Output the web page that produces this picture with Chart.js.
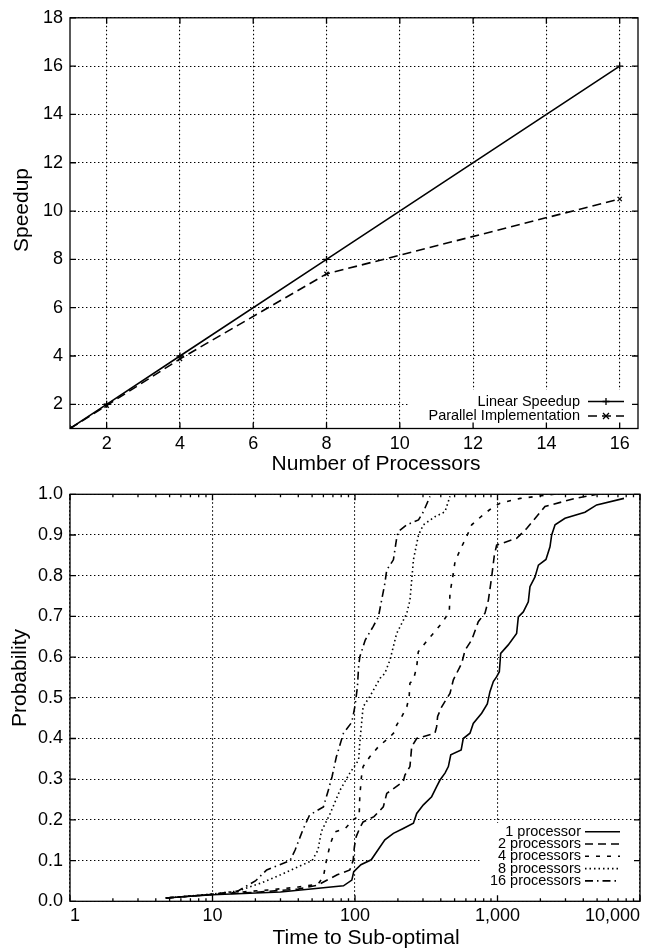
<!DOCTYPE html>
<html>
<head>
<meta charset="utf-8">
<script src="https://cdn.jsdelivr.net/npm/chart.js@4"></script>
<style>
  html, body { margin: 0; padding: 0; background: #fff; }
  #wrap { position: relative; width: 647px; height: 948px; }
  canvas { position: absolute; left: 0; }
</style>
</head>
<body>
<div id="wrap">
  <canvas id="speedup" width="647" height="474" style="top:0"></canvas>
  <canvas id="cdf" width="647" height="474" style="top:474px"></canvas>
</div>
<script>
// ---- speedup vs. processors ----
const processors = [1, 2, 4, 8, 16];
const linearSpeedup = [1, 2, 4, 8, 16];
const parallelSpeedup = [1, 1.95, 3.88, 7.4, 10.5];
const speedupXTicks = [2, 4, 6, 8, 10, 12, 14, 16];
const speedupYTicks = [2, 4, 6, 8, 10, 12, 14, 16, 18];

// ---- run-time distributions ----
const timeTicks = [1, 10, 100, 1000, 10000];
const timeMinorTicks = [2, 3, 4, 5, 6, 7, 8, 9, 20, 30, 40, 50, 60, 70, 80, 90,
  200, 300, 400, 500, 600, 700, 800, 900, 2000, 3000, 4000, 5000, 6000, 7000, 8000, 9000];
const probTicks = [0, 0.1, 0.2, 0.3, 0.4, 0.5, 0.6, 0.7, 0.8, 0.9, 1.0];
const runLabels = ["1 processor", "2 processors", "4 processors", "8 processors", "16 processors"];

const time1 = [4.7, 10, 30, 83, 95, 98, 110, 130, 146, 162, 186, 218, 257, 271, 302, 345, 374, 395, 428, 452,
  470, 556, 575, 641, 676, 774, 848, 885, 935, 987, 1030, 1053, 1190, 1362, 1400, 1517, 1645, 1690, 1833, 1937,
  2188, 2335, 2400, 2535, 2977, 4110, 4966, 7720];
const prob1 = [0.008, 0.016, 0.023, 0.038, 0.052, 0.073, 0.09, 0.102, 0.128, 0.151, 0.167, 0.179, 0.192, 0.216, 0.237, 0.257, 0.282, 0.298, 0.315, 0.331,
  0.36, 0.372, 0.40, 0.413, 0.437, 0.462, 0.485, 0.515, 0.54, 0.552, 0.564, 0.609, 0.63, 0.658, 0.699, 0.711, 0.736, 0.773, 0.797, 0.826,
  0.84, 0.871, 0.90, 0.925, 0.941, 0.956, 0.974, 0.99];

const time2 = [4.7, 10, 20, 40, 55, 62, 75, 92, 97, 99, 102, 108, 114, 136, 158, 167, 218, 224, 243, 250,
  271, 364, 374, 380, 406, 464, 490, 561, 592, 659, 733, 817, 863, 910, 950, 986, 1362, 1602, 2153, 3500, 5000];
const prob2 = [0.008, 0.017, 0.022, 0.03, 0.04, 0.05, 0.065, 0.077, 0.1, 0.134, 0.159, 0.18, 0.195, 0.208, 0.232, 0.265, 0.294, 0.31, 0.331, 0.38,
  0.40, 0.413, 0.429, 0.454, 0.478, 0.511, 0.544, 0.585, 0.617, 0.642, 0.687, 0.708, 0.74, 0.797, 0.85, 0.875, 0.892, 0.916, 0.97, 0.99, 1.0];

const time4 = [4.7, 10, 15, 25, 40, 55, 60, 63, 67, 72, 86, 97, 107, 108, 111, 114, 127, 146, 176, 191,
  196, 213, 231, 240, 243, 257, 271, 278, 310, 354, 406, 459, 464, 490, 503, 546, 607, 659, 795, 910, 1041, 1440, 2500];
const prob4 = [0.008, 0.017, 0.022, 0.028, 0.035, 0.042, 0.06, 0.1, 0.14, 0.17, 0.18, 0.2, 0.21, 0.257, 0.306, 0.331, 0.355, 0.38, 0.404, 0.417,
  0.433, 0.454, 0.478, 0.503, 0.536, 0.544, 0.576, 0.613, 0.634, 0.658, 0.683, 0.711, 0.757, 0.806, 0.834, 0.863, 0.896, 0.925, 0.95, 0.966, 0.978, 0.99, 1.0];

const time8 = [4.7, 10, 15, 22, 30, 40, 50, 55, 58, 67, 78.5, 92, 106, 108, 114, 127, 150, 162, 176, 196,
  213, 231, 243, 250, 257, 279, 302, 364, 428, 464];
const prob8 = [0.008, 0.018, 0.025, 0.045, 0.065, 0.085, 0.1, 0.126, 0.171, 0.216, 0.273, 0.315, 0.347, 0.388, 0.478, 0.503, 0.548, 0.56, 0.593, 0.658,
  0.683, 0.708, 0.74, 0.789, 0.839, 0.90, 0.925, 0.945, 0.957, 0.995];

const time16 = [4.7, 10, 15, 20, 24, 35, 38, 43, 48, 60, 65, 69, 74, 83, 95, 100, 104, 106, 108, 118,
  134, 146, 162, 167, 186, 196, 201, 231, 279, 302, 336];
const prob16 = [0.008, 0.017, 0.025, 0.05, 0.077, 0.1, 0.126, 0.175, 0.212, 0.232, 0.273, 0.306, 0.355, 0.413, 0.44, 0.48, 0.527, 0.576, 0.6, 0.642,
  0.675, 0.699, 0.781, 0.814, 0.839, 0.892, 0.908, 0.925, 0.937, 0.957, 0.995];

const FONT = '"Liberation Sans", Arial, Helvetica, sans-serif';

function pairs(xs, ys) {
  return xs.map((x, i) => ({ x: x, y: ys[i] }));
}

function drawMark(ctx, style, x, y, r) {
  ctx.beginPath();
  if (style === 'crossRot') {
    ctx.moveTo(x - r, y - r); ctx.lineTo(x + r, y + r);
    ctx.moveTo(x - r, y + r); ctx.lineTo(x + r, y - r);
  } else {
    ctx.moveTo(x - r, y); ctx.lineTo(x + r, y);
    ctx.moveTo(x, y - r); ctx.lineTo(x, y + r);
  }
  ctx.stroke();
}

// gnuplot look: key with white backing, full frame, inward ticks, axis labels
const gnuplotFrame = {
  id: 'gnuplotFrame',
  afterDatasetsDraw(chart, args, opts) {
    const { ctx, chartArea: a } = chart;
    const xs = chart.scales.x, ys = chart.scales.y;
    const k = opts.key;
    ctx.save();

    ctx.fillStyle = '#fff';
    ctx.fillRect(k.left, k.top, k.right - k.left, k.bottom - k.top);
    ctx.font = k.fontSize + 'px ' + FONT;
    ctx.textAlign = 'right';
    ctx.textBaseline = 'middle';
    chart.data.datasets.forEach((ds, i) => {
      const ry = k.firstRow + i * k.rowGap;
      ctx.fillStyle = '#000';
      ctx.fillText(ds.label, k.textRight, ry);
      ctx.strokeStyle = '#000';
      ctx.lineWidth = ds.borderWidth;
      ctx.setLineDash(ds.borderDash || []);
      ctx.beginPath();
      ctx.moveTo(k.sampleLeft, ry);
      ctx.lineTo(k.sampleRight, ry);
      ctx.stroke();
      ctx.setLineDash([]);
      if (ds.pointRadius) {
        ctx.lineWidth = ds.pointBorderWidth;
        drawMark(ctx, ds.pointStyle, (k.sampleLeft + k.sampleRight) / 2, ry, ds.pointRadius);
      }
    });

    ctx.strokeStyle = '#000';
    ctx.lineWidth = 1.3;
    ctx.setLineDash([]);
    ctx.strokeRect(a.left, a.top, a.width, a.height);
    ctx.beginPath();
    const xTick = (px, len) => {
      ctx.moveTo(px, a.bottom); ctx.lineTo(px, a.bottom - len);
      ctx.moveTo(px, a.top); ctx.lineTo(px, a.top + len);
    };
    xs.ticks.forEach(t => xTick(xs.getPixelForValue(t.value), 6));
    (opts.minorX || []).forEach(v => xTick(xs.getPixelForValue(v), 3));
    ys.ticks.forEach(t => {
      const py = ys.getPixelForValue(t.value);
      ctx.moveTo(a.left, py); ctx.lineTo(a.left + 6, py);
      ctx.moveTo(a.right, py); ctx.lineTo(a.right - 6, py);
    });
    ctx.stroke();

    ctx.fillStyle = '#000';
    ctx.textAlign = 'center';
    ctx.font = opts.titleSize + 'px ' + FONT;
    opts.titles.forEach(t => {
      ctx.save();
      ctx.translate(t.x, t.y);
      if (t.rotate) ctx.rotate(-Math.PI / 2);
      ctx.fillText(t.text, 0, 0);
      ctx.restore();
    });
    ctx.restore();
  }
};

const gridStyle = { color: '#000', lineWidth: 1.1, drawTicks: false };
const gridBorder = { display: false, dash: [1.4, 2.6] };
const tickFont = { family: FONT, size: 18, lineHeight: 1.2 };

new Chart(document.getElementById('speedup'), {
  type: 'line',
  data: {
    datasets: [
      {
        label: 'Linear Speedup',
        data: pairs(processors, linearSpeedup),
        borderColor: '#000', borderWidth: 1.6,
        pointStyle: 'cross', pointRadius: 3.5, pointBorderWidth: 1.3,
        pointBorderColor: '#000', pointBackgroundColor: '#000'
      },
      {
        label: 'Parallel Implementation',
        data: pairs(processors, parallelSpeedup),
        borderColor: '#000', borderWidth: 1.6, borderDash: [9, 5],
        pointStyle: 'crossRot', pointRadius: 3, pointBorderWidth: 1.3,
        pointBorderColor: '#000', pointBackgroundColor: '#000'
      }
    ]
  },
  options: {
    responsive: false,
    devicePixelRatio: 1,
    animation: false,
    layout: { padding: { top: 16, right: 9, bottom: 0, left: 0 } },
    elements: { line: { tension: 0 } },
    plugins: {
      legend: { display: false },
      tooltip: { enabled: false },
      gnuplotFrame: {
        key: { left: 410, right: 636, top: 390, bottom: 427, textRight: 580, sampleLeft: 588,
               sampleRight: 624, firstRow: 401.5, rowGap: 14.5, fontSize: 14.5 },
        titleSize: 21,
        titles: [
          { text: 'Number of Processors', x: 376, y: 464 },
          { text: 'Speedup', x: 22, y: 210, rotate: true }
        ]
      }
    },
    scales: {
      x: {
        type: 'linear', min: 1, max: 16.5,
        afterBuildTicks: s => { s.ticks = speedupXTicks.map(v => ({ value: v })); },
        afterFit: s => { s.height = 45.5; },
        grid: gridStyle, border: gridBorder,
        ticks: { color: '#000', font: tickFont, padding: 4.5, maxRotation: 0, callback: v => String(v) }
      },
      y: {
        type: 'linear', min: 1, max: 18,
        afterBuildTicks: s => { s.ticks = speedupYTicks.map(v => ({ value: v })); },
        afterFit: s => { s.width = 70; },
        grid: gridStyle, border: gridBorder,
        ticks: { color: '#000', font: tickFont, padding: 7, callback: v => String(v) }
      }
    }
  },
  plugins: [gnuplotFrame]
});

const runSeries = [
  { t: time1, p: prob1, dash: [] },
  { t: time2, p: prob2, dash: [8, 5] },
  { t: time4, p: prob4, dash: [4, 7] },
  { t: time8, p: prob8, dash: [1.5, 3] },
  { t: time16, p: prob16, dash: [8, 4, 1.5, 4] }
];

new Chart(document.getElementById('cdf'), {
  type: 'line',
  data: {
    datasets: runSeries.map((s, i) => ({
      label: runLabels[i],
      data: pairs(s.t, s.p),
      borderColor: '#000', borderWidth: 1.6, borderDash: s.dash,
      pointRadius: 0
    }))
  },
  options: {
    responsive: false,
    devicePixelRatio: 1,
    animation: false,
    layout: { padding: { top: 20.3, right: 7, bottom: 0, left: 0 } },
    elements: { line: { tension: 0 } },
    plugins: {
      legend: { display: false },
      tooltip: { enabled: false },
      gnuplotFrame: {
        key: { left: 482, right: 638, top: 349, bottom: 426, textRight: 581, sampleLeft: 585,
               sampleRight: 620, firstRow: 357.7, rowGap: 12.3, fontSize: 14.5 },
        minorX: timeMinorTicks,
        titleSize: 21,
        titles: [
          { text: 'Time to Sub-optimal', x: 366, y: 464 },
          { text: 'Probability', x: 20, y: 204, rotate: true }
        ]
      }
    },
    scales: {
      x: {
        type: 'logarithmic', min: 1, max: 10000,
        afterBuildTicks: s => { s.ticks = timeTicks.map(v => ({ value: v })); },
        afterFit: s => { s.height = 46.7; },
        grid: gridStyle, border: gridBorder,
        ticks: { color: '#000', font: tickFont, padding: 4, maxRotation: 0, align: 'inner',
                 callback: v => Number(v).toLocaleString('en-US') }
      },
      y: {
        type: 'linear', min: 0, max: 1,
        afterBuildTicks: s => { s.ticks = probTicks.map(v => ({ value: v })); },
        afterFit: s => { s.width = 70; },
        grid: gridStyle, border: gridBorder,
        ticks: { color: '#000', font: tickFont, padding: 7, callback: v => Number(v).toFixed(1) }
      }
    }
  },
  plugins: [gnuplotFrame]
});
</script>
</body>
</html>
